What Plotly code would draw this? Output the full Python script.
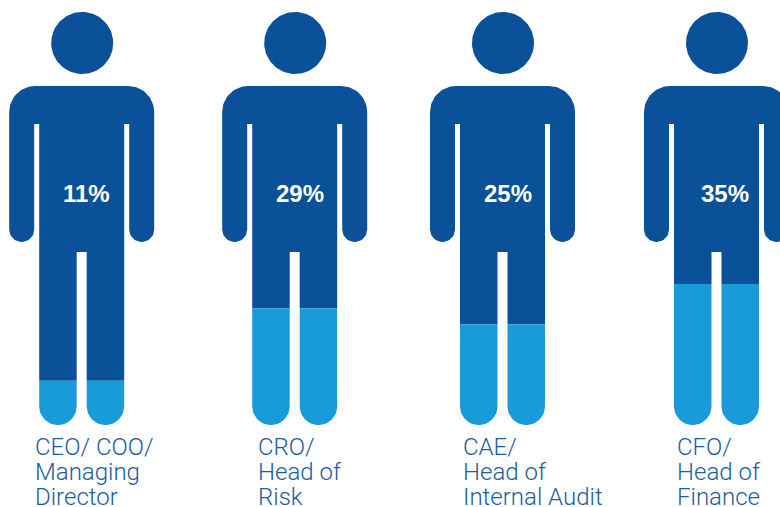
import numpy as np
import plotly.graph_objects as go

# Share of respondents per role
roles = ["CEO/ COO/ Managing Director", "CRO/ Head of Risk", "CAE/ Head of Internal Audit", "CFO/ Head of Finance"]
shares = [11, 29, 25, 35]
label_lines = [
    ["CEO/ COO/", "Managing", "Director"],
    ["CRO/", "Head of", "Risk"],
    ["CAE/", "Head of", "Internal Audit"],
    ["CFO/", "Head of", "Finance"],
]

DARK = "#0a5199"
LIGHT = "#1a9bd9"
TEXT = "#1c5c9f"

W, H = 780, 507
FEET = 425          # pixel row of the soles
PX_PER_PCT = 4.03   # figure height per percentage point

# Horizontal centre of each figure and left edge of its caption
centres = [81.7, 294.7, 502.5, 716.5]
caption_x = [35, 258, 463, 677]
pct_x = [86, 299.5, 508, 725]
LINE_Y = [447, 472, 497]


def v(py):
    """Pixel row to value-axis position."""
    return (FEET - np.asarray(py, dtype=float)) / PX_PER_PCT


def arc(cx, cy, r, a0, a1, n=24):
    t = np.radians(np.linspace(a0, a1, n))
    return cx + r * np.cos(t), cy + r * np.sin(t)


def path(*parts):
    xs, ys = [], []
    for p in parts:
        xs.extend(np.atleast_1d(p[0]).tolist())
        ys.extend(np.atleast_1d(p[1]).tolist())
    xs.append(xs[0])
    ys.append(ys[0])
    return xs, ys


def body_outline(c, level_px):
    # Shoulders, arms and torso; the legs stop where the lighter fill begins
    return path(
        arc(c - 46.5, 112, 26, 180, 270),
        arc(c + 46.5, 112, 26, 270, 360),
        arc(c + 60, 229.5, 12.5, 0, 180),
        (c + 47.5, 124), (c + 42.5, 124),
        (c + 42.5, level_px), (c + 5, level_px),
        (c + 5, 252), (c - 5, 252),
        (c - 5, level_px), (c - 42.5, level_px),
        (c - 42.5, 124), (c - 47.5, 124),
        arc(c - 60, 229.5, 12.5, 0, 180),
    )


def leg_outline(x0, x1, level_px):
    r = (x1 - x0) / 2
    return path(
        (x0, level_px), (x1, level_px),
        arc(x0 + r, FEET - r, r, 0, 180),
    )


fig = go.Figure()
for c, share in zip(centres, shares):
    level_px = FEET - share * PX_PER_PCT

    hx, hy = arc(c + 0.5, 43, 31, 0, 360, 90)
    fig.add_trace(go.Scatter(x=hx, y=v(hy), mode="lines", fill="toself", fillcolor=DARK,
                             line=dict(width=0), hoverinfo="skip", showlegend=False))

    bx, by = body_outline(c, level_px)
    fig.add_trace(go.Scatter(x=bx, y=v(by), mode="lines", fill="toself", fillcolor=DARK,
                             line=dict(width=0), hoverinfo="skip", showlegend=False))

    for x0, x1 in ((c - 42.5, c - 5), (c + 5, c + 42.5)):
        lx, ly = leg_outline(x0, x1, level_px)
        fig.add_trace(go.Scatter(x=lx, y=v(ly), mode="lines", fill="toself", fillcolor=LIGHT,
                                 line=dict(width=0), hoverinfo="skip", showlegend=False))

# Percentage inside each torso
for x, share in zip(pct_x, shares):
    fig.add_annotation(x=x, y=float(v(193)), text=f"{share}%", showarrow=False,
                       xanchor="center", yanchor="middle",
                       font=dict(family="Liberation Sans", size=24, color="white", weight="bold"))

# Role captions, one line at a time for tight leading
for x, lines in zip(caption_x, label_lines):
    for row, line in zip(LINE_Y, lines):
        fig.add_annotation(x=x, y=float(v(row)), text=line, showarrow=False,
                           xanchor="left", yanchor="middle", xshift=-2,
                           font=dict(family="Roboto", size=24, color=TEXT, weight=300))

fig.update_layout(
    width=W, height=H,
    margin=dict(l=0, r=0, t=0, b=0),
    paper_bgcolor="white", plot_bgcolor="white",
    showlegend=False,
    xaxis=dict(range=[0, W], visible=False, fixedrange=True),
    yaxis=dict(range=[float(v(H)), float(v(0))], visible=False, fixedrange=True),
)

fig.write_html("out.html", config=dict(displayModeBar=False))
